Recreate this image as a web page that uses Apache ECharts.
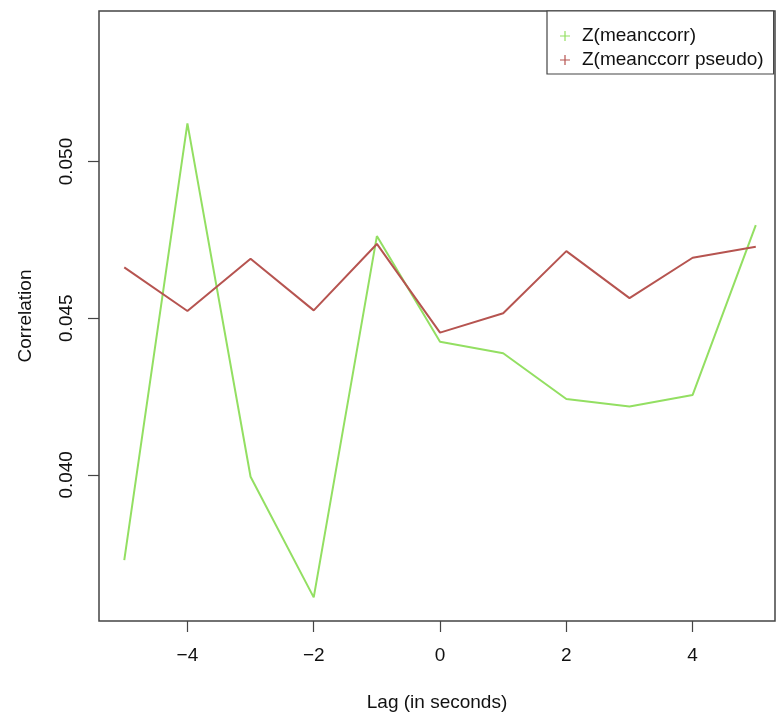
<!DOCTYPE html>
<html><head><meta charset="utf-8">
<script src="https://cdn.jsdelivr.net/npm/echarts@6/dist/echarts.min.js"></script>
<style>html,body{margin:0;padding:0;background:#fff}#c{width:776px;height:719px}</style>
</head><body><div id="c"></div>
<script>
const lags = [-5, -4, -3, -2, -1, 0, 1, 2, 3, 4, 5];
const meanccorr = [0.03728, 0.05122, 0.03994, 0.03609, 0.04762, 0.04425, 0.04388, 0.04242, 0.04218, 0.04255, 0.04797];
const meanccorrPseudo = [0.04662, 0.04523, 0.04690, 0.04525, 0.04737, 0.04454, 0.04516, 0.04714, 0.04564, 0.04693, 0.04728];
const xTicks = [-4, -2, 0, 2, 4];
const yTicks = [0.040, 0.045, 0.050];
const seriesNames = ['Z(meanccorr)', 'Z(meanccorr pseudo)'];
const colors = ['#93df62', '#b65450'];
const FONT = 'Liberation Sans, Arial, Helvetica, sans-serif';

const chart = echarts.init(document.getElementById('c'), null, {renderer: 'canvas'});
const plusIcon = 'path://M0,4.4H10V5.6H0Z M4.4,0H5.6V10H4.4Z';

chart.setOption({
  animation: false,
  backgroundColor: '#fff',
  textStyle: {fontFamily: FONT},
  grid: {left: 99, top: 11, right: 1, bottom: 98, show: true, borderColor: '#444', borderWidth: 1.5, backgroundColor: 'transparent'},
  legend: {
    orient: 'vertical', left: 547, top: 11,
    data: seriesNames,
    icon: plusIcon, itemWidth: 10, itemHeight: 10, itemGap: 2,
    padding: [14, 10, 3, 13],
    borderColor: '#444', borderWidth: 1.2, backgroundColor: '#fff',
    textStyle: {fontSize: 19, color: '#111', fontFamily: FONT, lineHeight: 22, padding: [0, 0, 0, 7]}
  },
  xAxis: {
    type: 'value', min: -5.4, max: 5.304,
    name: 'Lag (in seconds)', nameLocation: 'middle', nameGap: 72,
    nameTextStyle: {fontSize: 19, color: '#111', fontFamily: FONT},
    axisLine: {show: false, onZero: false},
    splitLine: {show: false},
    axisTick: {show: true, inside: false, length: 11, customValues: xTicks, lineStyle: {color: '#444', width: 1.2}},
    axisLabel: {customValues: xTicks, margin: 25, fontSize: 19, color: '#111', fontFamily: FONT,
      formatter: v => (v < 0 ? '\u2212' + Math.abs(v) : String(v))}
  },
  yAxis: {
    type: 'value', min: 0.035335, max: 0.054805,
    name: 'Correlation', nameLocation: 'middle', nameGap: 64, nameRotate: 90,
    nameTextStyle: {fontSize: 19, color: '#111', fontFamily: FONT},
    axisLine: {show: false, onZero: false},
    splitLine: {show: false},
    axisTick: {show: true, inside: false, length: 11, customValues: yTicks, lineStyle: {color: '#444', width: 1.2}},
    axisLabel: {customValues: yTicks, rotate: 90, margin: 23, fontSize: 19, color: '#111', fontFamily: FONT,
      align: 'center', verticalAlign: 'bottom',
      formatter: v => v.toFixed(3)}
  },
  series: [
    {name: seriesNames[0], type: 'line', data: lags.map((x, i) => [x, meanccorr[i]]),
     showSymbol: false, symbol: 'none', color: colors[0], lineStyle: {color: colors[0], width: 2}, z: 2},
    {name: seriesNames[1], type: 'line', data: lags.map((x, i) => [x, meanccorrPseudo[i]]),
     showSymbol: false, symbol: 'none', color: colors[1], lineStyle: {color: colors[1], width: 2}, z: 3}
  ]
});
</script>
</body></html>
